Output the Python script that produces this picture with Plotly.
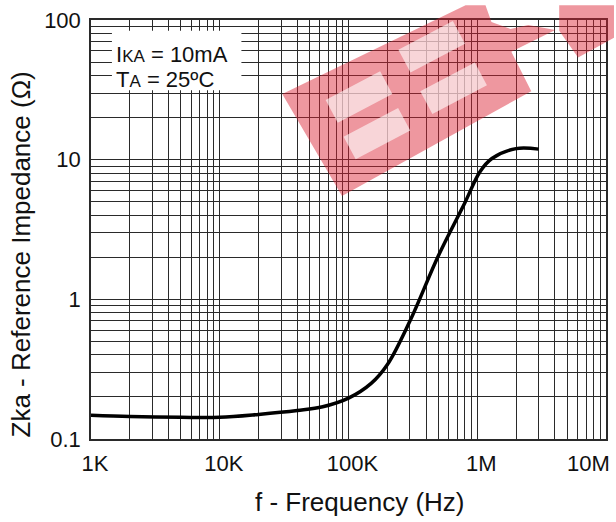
import plotly.graph_objects as go

# ---- data ----
freq_hz = [1e3, 2e3, 5e3, 1e4, 2e4, 4e4, 6.3e4, 1e5, 1.5e5, 2e5, 3e5, 5e5, 8e5, 1.05e6, 1.3e6, 2e6, 3e6]
zka_ohm = [0.148, 0.145, 0.143, 0.143, 0.150, 0.160, 0.170, 0.196, 0.25, 0.34, 0.70, 2.06, 4.9, 8.2, 10.2, 12.0, 11.9]

x_tick_vals = [1e3, 1e4, 1e5, 1e6, 1e7]
x_tick_text = ["1K", "10K", "100K", "1M", "10M"]
y_tick_vals = [0.1, 1, 10, 100]
y_tick_text = ["0.1", "1", "10", "100"]

x_minor = [m * 10 ** e for e in range(3, 7) for m in range(2, 10)]
y_minor = [m * 10.0 ** e for e in range(-1, 2) for m in range(2, 10)]

FONT = "Liberation Sans, Arial, sans-serif"
GRID = "#2a2a2a"

# plot area in pixels (for converting overlay geometry to paper coords)
L, R, T, B = 91, 608, 15, 439
W, H = 616, 522


def pp(px, py):
    return (px - L) / (R - L), (B - py) / (B - T)


def path(points):
    s = ""
    for i, (px, py) in enumerate(points):
        x, y = pp(px, py)
        s += ("M" if i == 0 else "L") + f"{x:.4f},{y:.4f} "
    return s + "Z"


def rrect(cx, cy, length, width, ang=28.0):
    import math
    a = math.radians(ang)
    ux, uy = math.cos(a) * length / 2, -math.sin(a) * length / 2
    vx, vy = math.sin(a) * width / 2, math.cos(a) * width / 2
    return [(cx - ux - vx, cy - uy - vy), (cx + ux - vx, cy + uy - vy),
            (cx + ux + vx, cy + uy + vy), (cx - ux + vx, cy - uy + vy)]


fig = go.Figure()
fig.add_trace(go.Scatter(
    x=freq_hz, y=zka_ohm, mode="lines",
    line=dict(color="black", width=3.5, shape="spline", smoothing=1.0),
    hoverinfo="skip", showlegend=False,
))

axis_common = dict(
    type="log",
    showgrid=True, gridcolor=GRID, gridwidth=1.4,
    showline=True, linecolor=GRID, linewidth=1.5, mirror=True,
    ticks="", zeroline=False,
    tickfont=dict(family=FONT, size=22, color="#111"),
)

# last x label is placed inside the figure (as in the reference) via an annotation
x_text_axis = x_tick_text[:-1] + [""]

fig.update_xaxes(
    range=[3, 7], tickmode="array", tickvals=x_tick_vals, ticktext=x_text_axis,
    minor=dict(tickmode="array", tickvals=x_minor, showgrid=True, gridcolor=GRID, gridwidth=1.4, ticks=""),
    ticklabelstandoff=4, ticklabelshift=4,
    **axis_common,
)
fig.update_yaxes(
    range=[-1, 2], tickmode="array", tickvals=y_tick_vals, ticktext=y_tick_text,
    minor=dict(tickmode="array", tickvals=y_minor, showgrid=True, gridcolor=GRID, gridwidth=1.4, ticks=""),
    ticklabelstandoff=4,
    **axis_common,
)

shapes = []
# white condition box breaking the grid
bx0, by0 = pp(112, 86)
bx1, by1 = pp(242, 26)
shapes.append(dict(type="rect", xref="paper", yref="paper", x0=bx0, y0=by0, x1=bx1, y1=by1,
                   fillcolor="white", line=dict(width=0), layer="above"))

# watermark (translucent red logo)
red = "rgba(218,35,50,0.47)"
band = [(283, 90), (467, 0), (487, 0), (493, 17), (512, 24), (530, 20), (557, 25),
        (513, 47), (533, 87), (343, 193)]
corner = [(561, 0), (616, 0), (616, 33), (580, 53), (561, 26)]
for poly in (band, corner):
    shapes.append(dict(type="path", xref="paper", yref="paper", path=path(poly),
                       fillcolor=red, line=dict(width=0), layer="above"))
for (cx, cy) in [(360, 93), (378, 130), (433, 42), (455, 84)]:
    shapes.append(dict(type="path", xref="paper", yref="paper", path=path(rrect(cx, cy, 62, 26)),
                       fillcolor="rgba(255,255,255,0.6)", line=dict(width=0), layer="above"))

annotations = []
ax, ay1 = pp(114, 50)
_, ay2 = pp(114, 75)
annotations.append(dict(xref="paper", yref="paper", x=ax, y=ay1, xanchor="left", yanchor="middle",
                        text="I<span style='font-size:17px'>KA</span> = 10mA", showarrow=False,
                        font=dict(family=FONT, size=22, color="#111")))
annotations.append(dict(xref="paper", yref="paper", x=ax, y=ay2, xanchor="left", yanchor="middle",
                        text="T<span style='font-size:17px'>A</span> = 25ºC", showarrow=False,
                        font=dict(family=FONT, size=22, color="#111")))
# 10M label, kept inside the figure's right edge
mx, my = pp(614, 464)
annotations.append(dict(xref="paper", yref="paper", x=mx, y=my, xanchor="right", yanchor="middle",
                        text=x_tick_text[-1], showarrow=False,
                        font=dict(family=FONT, size=22, color="#111")))
tx, ty = pp(361, 503)
annotations.append(dict(xref="paper", yref="paper", x=tx, y=ty, xanchor="center", yanchor="middle",
                        text="f - Frequency (Hz)", showarrow=False,
                        font=dict(family=FONT, size=26, color="#111")))
yx, yy = pp(21, 252)
annotations.append(dict(xref="paper", yref="paper", x=yx, y=yy, xanchor="center", yanchor="middle",
                        text="Zka - Reference Impedance (Ω)", showarrow=False, textangle=-90,
                        font=dict(family=FONT, size=26, color="#111")))

fig.update_layout(
    width=W, height=H,
    margin=dict(l=L, r=W - R, t=T, b=H - B, pad=0),
    paper_bgcolor="white", plot_bgcolor="white",
    shapes=shapes, annotations=annotations,
    showlegend=False,
)

fig.write_html("out.html")
